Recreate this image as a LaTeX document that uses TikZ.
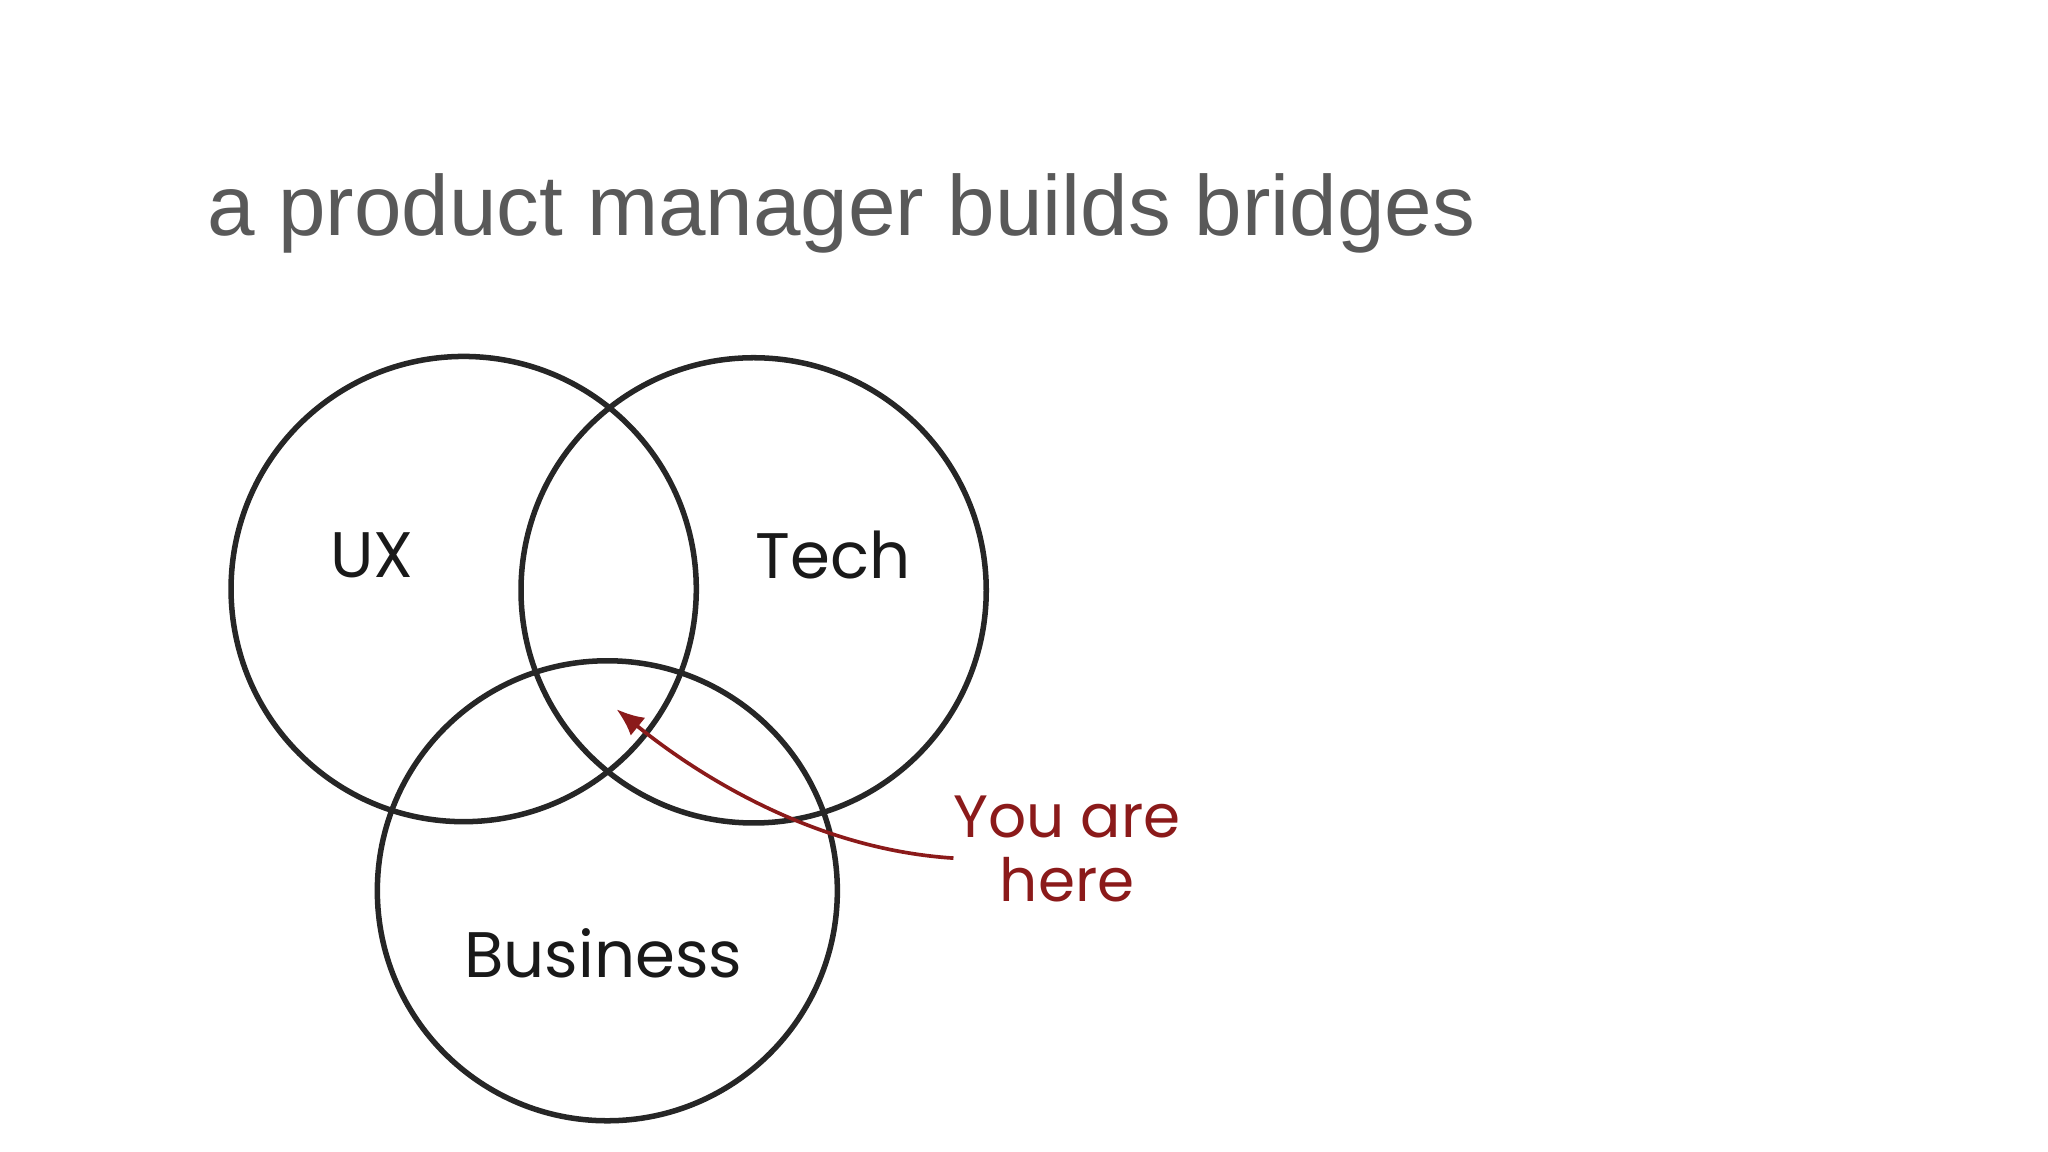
\documentclass[tikz,border=0pt]{standalone}
\usetikzlibrary{arrows.meta}
\usepackage{fontspec}
\setmainfont{Liberation Sans}
\newfontfamily\hand{Poppins}
\definecolor{titlegray}{HTML}{595959}
\definecolor{here}{HTML}{8B1A1A}
\begin{document}
\begin{tikzpicture}[x=0.01cm,y=-0.01cm,
  ring/.style={draw=black!85,line width=1.2pt},
  lab/.style={font=\hand\fontsize{14}{14}\selectfont,text=black!90}]
\useasboundingbox (0,0) rectangle (1568,882);
\node[anchor=base west,text=titlegray,font=\fontsize{18.6}{20}\selectfont,inner sep=0] (title) at (158,180) {a product manager builds bridges};
\node[ring,circle,minimum size=3.56cm,inner sep=0] (ux) at (355,451) {};
\node[ring,circle,minimum size=3.56cm,inner sep=0] (tech) at (577,452) {};
\node[ring,circle,minimum size=3.52cm,inner sep=0] (bus) at (465,682) {};
\node[lab] (uxl) at (285,425) {UX};
\node[lab] (techl) at (638,425) {Tech};
\node[lab] (busl) at (462,730) {Business};
\node[font=\hand\fontsize{13}{14}\selectfont,text=here,align=center] (you) at (817,650) {You are\\here};
\coordinate (tip) at (472,543);
\coordinate (start) at (730,657);
\draw[here,line width=0.8pt,-{Latex[length=6pt,width=5pt]}] (start) .. controls (620,650) and (530,590) .. (tip);
\end{tikzpicture}
\end{document}
